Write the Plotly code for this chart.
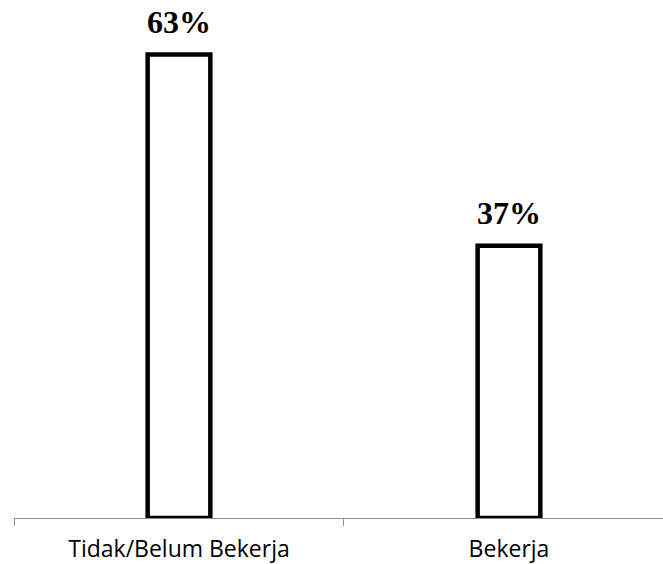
import plotly.graph_objects as go

categories = ["Tidak/Belum Bekerja", "Bekerja"]
values = [63, 37]
labels = [f"{v}%" for v in values]

fig = go.Figure()
fig.add_trace(go.Bar(
    x=categories,
    y=values,
    width=0.19,
    marker=dict(color="white", line=dict(color="black", width=4.5)),
    hoverinfo="skip",
))

for c, v, t in zip(categories, values, labels):
    fig.add_annotation(
        x=c, y=v, text=f"<b>{t}</b>", showarrow=False,
        yanchor="bottom", yshift=13,
        font=dict(family="Liberation Serif", size=32, color="black"),
    )

fig.update_layout(
    width=663, height=564,
    margin=dict(l=14, r=0, t=3, b=46),
    paper_bgcolor="white", plot_bgcolor="white",
    showlegend=False,
    xaxis=dict(
        type="category",
        range=[-0.5, 1.4667],
        tickson="boundaries",
        ticks="outside", ticklen=7, tickcolor="#8c8c8c", tickwidth=1,
        showline=True, linecolor="#8c8c8c", linewidth=1,
        showgrid=False, zeroline=False,
        automargin=False,
        ticklabelstandoff=10,
        tickfont=dict(family="Open Sans", size=23, color="black"),
    ),
    yaxis=dict(
        range=[0, 70], visible=False, showgrid=False, zeroline=False,
        automargin=False,
    ),
)

fig.write_html("out.html")
